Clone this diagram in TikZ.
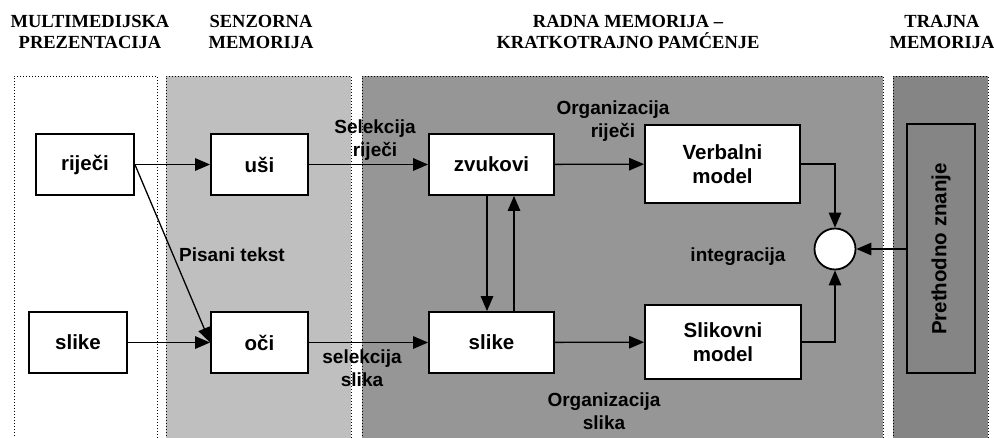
\documentclass[tikz,border=0pt]{standalone}
\usepackage{fontspec}
\setmainfont{Liberation Serif}
\setsansfont{Liberation Sans}
\usepackage{tikz}
\usetikzlibrary{arrows.meta}
\usetikzlibrary{shapes,positioning}
\tikzset{>={Triangle[length=15pt,width=12.5pt]}}
\definecolor{senz}{gray}{0.75}
\definecolor{radna}{gray}{0.59}
\definecolor{trajna}{gray}{0.52}
\newcommand{\blokfont}{\fontsize{20.5}{24}\selectfont\sffamily\bfseries}
\newcommand{\natfont}{\fontsize{19}{23}\selectfont\sffamily\bfseries}
\newcommand{\naslfont}{\fontsize{18.5}{21}\selectfont\rmfamily\bfseries}

\begin{document}
\begin{tikzpicture}[x=1pt,y=-1pt,
  blok/.style={draw,fill=white,line width=1.8pt,font=\blokfont,align=center,inner sep=0pt},
  strel/.style={->,line width=1.3pt},
  stupac/.style={dotted,line width=1pt},
  natpis/.style={font=\natfont,align=center,inner sep=0pt},
  naslov/.style={font=\naslfont,align=center,inner sep=0pt}]

\clip (0,0) rectangle (994,437);

% Stupci
\draw[stupac] (14,445) -- (14,76) -- (157,76) -- (157,445);
\fill[senz] (166,76) rectangle (351,445);
\draw[stupac] (166,445) -- (166,76) -- (351,76) -- (351,445);
\fill[radna] (362,76) rectangle (883,445);
\draw[stupac] (362,445) -- (362,76) -- (883,76) -- (883,445);
\fill[trajna] (893,76) rectangle (988,445);
\draw[stupac] (893,445) -- (893,76) -- (988,76) -- (988,445);

% Naslovi
\node[naslov] (nasl1) at (90,31.5) {MULTIMEDIJSKA\\PREZENTACIJA};
\node[naslov] (nasl2) at (261,31.5) {SENZORNA\\MEMORIJA};
\node[naslov] (nasl3) at (628,31.5) {RADNA MEMORIJA --\\KRATKOTRAJNO PAMĆENJE};
\node[naslov] (nasl4) at (942,31.5) {TRAJNA\\MEMORIJA};

% Natpisi uz strelice
\node[natpis] (selrij) at (375,140) {Selekcija\\riječi};
\node[natpis] (pisani) at (232,255) {Pisani tekst};
\node[natpis] (selsl) at (362,368) {selekcija\\slika};
\node[natpis] (orgrij) at (613,121) {Organizacija\\riječi};
\node[natpis] (orgsl) at (604,411) {Organizacija\\slika};
\node[natpis] (integ) at (738,257) {integracija};

% Blokovi
\node[blok,minimum width=98,minimum height=61] (rijeci) at (85,164.5) {riječi};
\node[blok,minimum width=98,minimum height=61] (slikeA) at (78,342.5) {slike};
\node[blok,minimum width=97,minimum height=61] (usi) at (259.5,164.5) {uši};
\node[blok,minimum width=97,minimum height=61] (oci) at (259.5,342.5) {oči};
\node[blok,minimum width=125,minimum height=61] (zvukovi) at (491.5,164.5) {zvukovi};
\node[blok,minimum width=125,minimum height=61] (slikeB) at (491.5,342.5) {slike};
\node[blok,minimum width=155,minimum height=78] (verbalni) at (722.5,164) {Verbalni\\model};
\node[blok,minimum width=156,minimum height=74] (slikovni) at (723,342) {Slikovni\\model};
\node[blok,circle,minimum size=41] (krug) at (835,249) {};
\node[blok,fill=trajna,minimum width=68,minimum height=249] (prethodno) at (941,248.5) {};
\node[font=\blokfont,rotate=90,inner sep=0pt] (prethtxt) at (941,249) {Prethodno znanje};

% Strelice
\draw[strel] (rijeci) -- (usi);
\draw[strel] (rijeci.east) -- (oci.west);
\draw[strel] (slikeA) -- (oci);
\draw[strel] (usi) -- (zvukovi);
\draw[strel] (oci) -- (slikeB);
\draw[strel] (zvukovi) -- (verbalni);
\draw[strel] (slikeB) -- (slikovni);
\draw[strel] ([xshift=-4.5pt]zvukovi.south) -- ([xshift=-4.5pt]slikeB.north);
\draw[strel] ([xshift=22.5pt]slikeB.north) -- ([xshift=22.5pt]zvukovi.south);
\draw[strel] (verbalni.east) -| (krug.north);
\draw[strel] (slikovni.east) -| (krug.south);
\draw[strel] (prethodno.west |- krug) -- (krug.east);

\end{tikzpicture}
\end{document}
